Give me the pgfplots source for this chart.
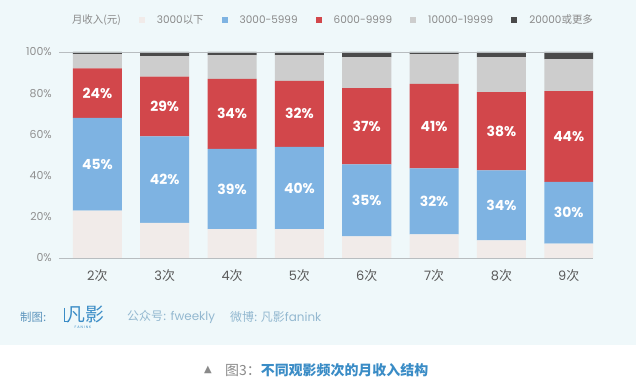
\documentclass[border=0pt]{standalone}
\usepackage{pgfplots}
\pgfplotsset{compat=1.18}
\usepackage{pgfplotstable}
\usepackage{fontspec}
\setmainfont{Poppins}
\newfontfamily\cjk{Noto Sans CJK SC}
\newfontfamily\sym{DejaVu Sans}
\definecolor{bgc}{HTML}{EFF8FA}
\definecolor{cA}{HTML}{F1EBE9}
\definecolor{cB}{HTML}{7EB3E2}
\definecolor{cC}{HTML}{D2474B}
\definecolor{cD}{HTML}{CDCDCD}
\definecolor{cE}{HTML}{4A4A4A}
\definecolor{legc}{HTML}{8A8A8A}
\definecolor{tickc}{HTML}{8F8F8F}
\definecolor{xc}{HTML}{5A5A5A}
\definecolor{linec}{HTML}{B8BDC0}
\definecolor{footA}{HTML}{5D95BD}
\definecolor{footB}{HTML}{93B8D0}
\definecolor{capblue}{HTML}{3A8CC6}

\pgfplotstableread{
x lo blue red gray dark
0 23 45 24 7 1
1 17 42 29 10 2
2 14 39 34 11.5 1.5
3 14 40 32 12.5 1.5
4 10.5 35 37 15 2.5
5 11.5 32 41 14.5 1
6 8.5 34 38 17 2.5
7 7 30 44 15.5 3.5
}\income

\pgfplotstableread{
x y v
0 45.5 45
1 38 42
2 33.5 39
3 34 40
4 28 35
5 27.5 32
6 25.5 34
7 22 30
0 80 24
1 73.5 29
2 70 34
3 70 32
4 64 37
5 64 41
6 61.5 38
7 59 44
}\labels

\pgfplotsset{
  sq/.style={legend image code/.code={\fill[##1] (0bp,-3bp) rectangle (6bp,3bp);}},
  frame/.style={at={(59bp,125bp)}, anchor=south west, scale only axis,
    width=534bp, height=206bp, xmin=-0.57, xmax=7.36, ymin=0, ymax=100},
}

\begin{document}
\begin{tikzpicture}
\useasboundingbox (0,0) rectangle (636bp,383bp);
\fill[white] (0,0) rectangle (636bp,383bp);
\fill[bgc] (0,38bp) rectangle (636bp,383bp);
\begin{axis}[frame,
  ybar stacked, bar width=0.728,
  axis x line*=bottom, axis y line*=left,
  x axis line style={draw=linec, line width=0.8bp, -},
  y axis line style={draw=none},
  major tick length=0pt,
  xtick={0,...,7},
  xticklabels={{2{\cjk 次}},{3{\cjk 次}},{4{\cjk 次}},{5{\cjk 次}},{6{\cjk 次}},{7{\cjk 次}},{8{\cjk 次}},{9{\cjk 次}}},
  xticklabel style={font=\fontsize{13}{15}\selectfont, text=xc, anchor=north, inner sep=0pt, yshift=-11bp},
  ytick={0,20,...,100},
  /pgf/number format/assume math mode=true,
  yticklabel={\pgfmathprintnumber{\tick}\%},
  yticklabel style={font=\fontsize{11}{13}\selectfont, text=tickc, anchor=east, inner sep=0pt, xshift=-7bp},
  legend columns=-1,
  legend style={at={(0,1)}, anchor=west, xshift=1bp, yshift=32bp, draw=none, fill=none,
    font=\fontsize{10.5}{12}\selectfont, text=legc, inner sep=0pt, outer sep=0pt,
    nodes={inner sep=0pt},
    /tikz/every odd column/.append style={column sep=12bp},
    /tikz/every even column/.append style={column sep=18bp}},
]
\draw[linec, line width=0.8bp] (rel axis cs:0,1) -- (rel axis cs:1,1);
\addlegendimage{empty legend}
\addlegendentry{{\cjk 月收入(元)}}
\addplot[fill=cA, draw=none, sq] table[x=x, y=lo]{\income};
\addlegendentry{3000{\cjk 以下}}
\addplot[fill=cB, draw=none, sq] table[x=x, y=blue]{\income};
\addlegendentry{3000-5999}
\addplot[fill=cC, draw=none, sq] table[x=x, y=red]{\income};
\addlegendentry{6000-9999}
\addplot[fill=cD, draw=none, sq] table[x=x, y=gray]{\income};
\addlegendentry{10000-19999}
\addplot[fill=cE, draw=none, sq] table[x=x, y=dark]{\income};
\addlegendentry{20000{\cjk 或更多}}
\end{axis}
\begin{axis}[frame, hide axis, /pgf/number format/assume math mode=true]
\addplot[only marks, mark=*, mark size=0pt, draw=none, mark options={draw=none, fill=none},
  point meta=explicit,
  nodes near coords={\pgfmathprintnumber{\pgfplotspointmeta}\%},
  nodes near coords align=center,
  every node near coord/.append style={anchor=center, text=white,
    font=\fontsize{14}{16}\selectfont\bfseries}]
  table[x=x, y=y, meta=v]{\labels};
\end{axis}
% footer
\node[anchor=west, text=footA, font=\cjk\fontsize{11.5}{13}\selectfont, inner sep=0pt] at (20bp,66bp) {制图:};
\draw[capblue, line width=0.8bp] (64bp,75bp) -- (64bp,62bp) -- (69bp,62bp);
\node[anchor=center, text=capblue, font=\cjk\fontsize{19}{21}\selectfont, inner sep=0pt] at (85bp,68bp) {凡影};
\node[anchor=center, text=capblue, font=\fontsize{3.5}{4}\selectfont, inner sep=0pt] at (83bp,56bp) {F A N I N K};
\node[anchor=west, text=footB, font=\fontsize{12}{14}\selectfont, inner sep=0pt] at (127bp,66bp) {{\cjk 公众号:} fweekly};
\node[anchor=west, text=footB, font=\fontsize{12}{14}\selectfont, inner sep=0pt] at (230bp,66bp) {{\cjk 微博: 凡影}fanink};
% caption
\node[anchor=west, text=legc, font=\sym\fontsize{10}{12}\selectfont, inner sep=0pt] at (204bp,13bp) {▲};
\node[anchor=west, inner sep=0pt, font=\cjk\fontsize{14}{16}\selectfont] at (225bp,13bp)
  {\textcolor{legc}{图3：}\textcolor{capblue}{\bfseries 不同观影频次的月收入结构}};
\end{tikzpicture}
\end{document}
